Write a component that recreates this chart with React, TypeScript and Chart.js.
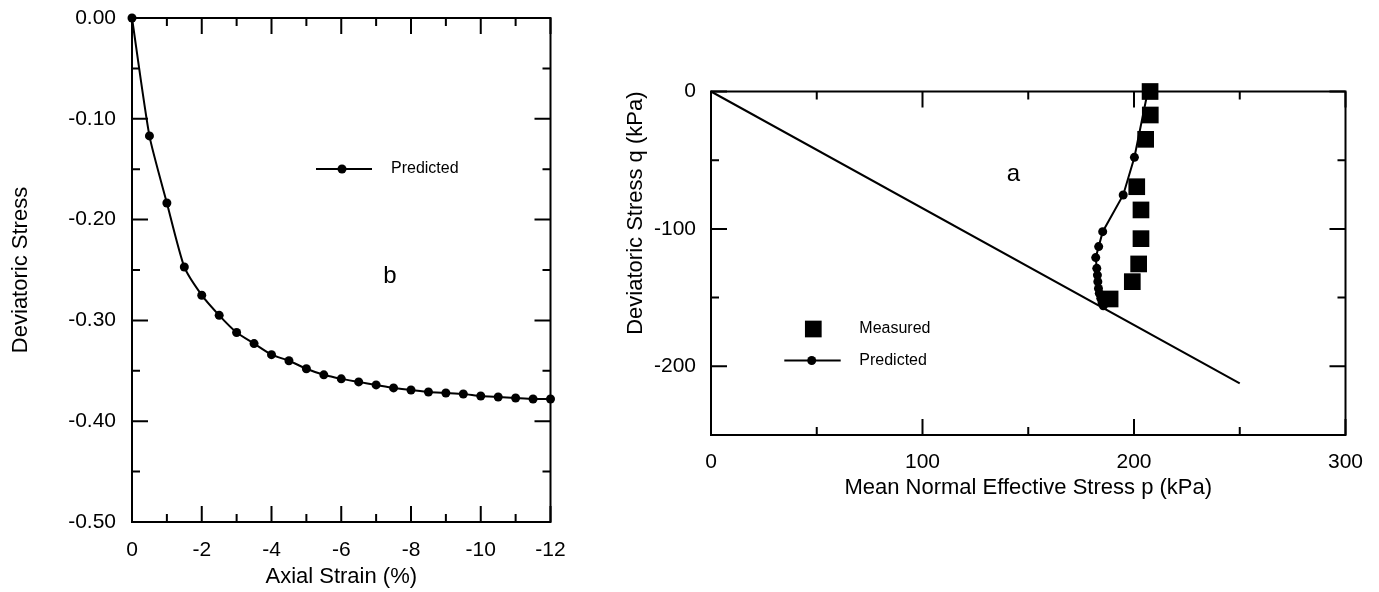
import React, { useEffect, useRef } from 'react';
import { Chart, registerables } from 'chart.js';

Chart.register(...registerables);

// ---------- Left chart (b): deviatoric stress vs axial strain ----------
const axialStrain = [0, -0.5, -1, -1.5, -2, -2.5, -3, -3.5, -4, -4.5, -5, -5.5, -6, -6.5, -7, -7.5, -8, -8.5, -9, -9.5, -10, -10.5, -11, -11.5, -12];
const devStressPredicted = [0, -0.117, -0.1835, -0.247, -0.275, -0.295, -0.312, -0.323, -0.334, -0.34, -0.348, -0.354, -0.358, -0.361, -0.364, -0.367, -0.369, -0.371, -0.372, -0.373, -0.375, -0.376, -0.377, -0.378, -0.378];
const leftXMajor = [0, -2, -4, -6, -8, -10, -12];
const leftXMinor = [-1, -3, -5, -7, -9, -11];
const leftYMajor = [0, -0.1, -0.2, -0.3, -0.4, -0.5];
const leftYMinor = [-0.05, -0.15, -0.25, -0.35, -0.45];

// ---------- Right chart (a): stress path q vs p ----------
const measuredP = [207.6, 207.7, 205.5, 201.3, 203.3, 203.3, 202.2, 199.2, 188.7];
const measuredQ = [0, -17.1, -34.8, -69.3, -86.2, -107.1, -125.5, -138.4, -151];
const predictedP = [206.5, 200.2, 194.9, 185.2, 183.3, 181.9, 182.4, 182.7, 182.9, 183.2, 183.6, 184.3, 184.9, 185.5];
const predictedQ = [0, -47.9, -75.3, -102, -112.9, -120.9, -128.7, -133.6, -138.4, -143.3, -146.9, -150.5, -153.7, -155.9];
const cslP = [0, 250];
const cslQ = [0, -212.4];
const rightXMajor = [0, 100, 200, 300];
const rightXMinor = [50, 150, 250];
const rightYMajor = [0, -100, -200];
const rightYMinor = [-50, -150];

const FONT = "'Liberation Sans', Arial, Helvetica, sans-serif";
const W = 1379;
const H = 592;

const zip = (xs: number[], ys: number[]) => xs.map((x, i) => ({ x, y: ys[i] }));

function framePlugin(id: string, xMajor: number[], xMinor: number[], yMajor: number[], yMinor: number[]) {
  return {
    id,
    beforeDatasetsDraw(chart: any) {
      const { ctx, chartArea: a, scales } = chart;
      const xs = scales.x;
      const ys = scales.y;
      ctx.save();
      ctx.strokeStyle = '#000';
      ctx.lineWidth = 2;
      ctx.lineCap = 'butt';
      ctx.strokeRect(a.left, a.top, a.right - a.left, a.bottom - a.top);
      const xt = (v: number, len: number) => {
        const px = xs.getPixelForValue(v);
        ctx.beginPath();
        ctx.moveTo(px, a.bottom);
        ctx.lineTo(px, a.bottom - len);
        ctx.moveTo(px, a.top);
        ctx.lineTo(px, a.top + len);
        ctx.stroke();
      };
      const yt = (v: number, len: number) => {
        const py = ys.getPixelForValue(v);
        ctx.beginPath();
        ctx.moveTo(a.left, py);
        ctx.lineTo(a.left + len, py);
        ctx.moveTo(a.right, py);
        ctx.lineTo(a.right - len, py);
        ctx.stroke();
      };
      xMajor.forEach((v) => xt(v, 16));
      xMinor.forEach((v) => xt(v, 8));
      yMajor.forEach((v) => yt(v, 16));
      yMinor.forEach((v) => yt(v, 8));
      ctx.restore();
    },
  };
}

const leftNotes = {
  id: 'leftNotes',
  afterDatasetsDraw(chart: any) {
    const { ctx, chartArea: a } = chart;
    ctx.save();
    ctx.fillStyle = '#000';
    ctx.strokeStyle = '#000';
    ctx.lineWidth = 2;
    const ly = a.top + 151;
    ctx.beginPath();
    ctx.moveTo(a.left + 184, ly);
    ctx.lineTo(a.left + 240, ly);
    ctx.stroke();
    ctx.beginPath();
    ctx.arc(a.left + 210, ly, 4.5, 0, Math.PI * 2);
    ctx.fill();
    ctx.font = `16px ${FONT}`;
    ctx.textAlign = 'left';
    ctx.textBaseline = 'middle';
    ctx.fillText('Predicted', a.left + 259, ly);
    ctx.font = `24px ${FONT}`;
    ctx.textAlign = 'center';
    ctx.fillText('b', a.left + 258, a.top + 258.5);
    ctx.restore();
  },
};

const rightNotes = {
  id: 'rightNotes',
  afterDatasetsDraw(chart: any) {
    const { ctx, chartArea: a } = chart;
    ctx.save();
    ctx.fillStyle = '#000';
    ctx.strokeStyle = '#000';
    ctx.lineWidth = 2;
    const my = a.top + 237.5;
    const s = 16.7;
    ctx.fillRect(a.left + 102.3 - s / 2, my - s / 2, s, s);
    const py = a.top + 269;
    ctx.beginPath();
    ctx.moveTo(a.left + 73.3, py);
    ctx.lineTo(a.left + 129.7, py);
    ctx.stroke();
    ctx.beginPath();
    ctx.arc(a.left + 100.7, py, 4.5, 0, Math.PI * 2);
    ctx.fill();
    ctx.font = `16px ${FONT}`;
    ctx.textAlign = 'left';
    ctx.textBaseline = 'middle';
    ctx.fillText('Measured', a.left + 148.3, my);
    ctx.fillText('Predicted', a.left + 148.3, py + 0.5);
    ctx.font = `24px ${FONT}`;
    ctx.textAlign = 'center';
    ctx.fillText('a', a.left + 302.3, a.top + 82.5);
    ctx.restore();
  },
};

const zeroPadH = (ax: any) => {
  ax.paddingLeft = 0;
  ax.paddingRight = 0;
};
const zeroPadV = (ax: any) => {
  ax.paddingTop = 0;
  ax.paddingBottom = 0;
};

export default function App() {
  const leftRef = useRef<HTMLCanvasElement>(null);
  const rightRef = useRef<HTMLCanvasElement>(null);

  useEffect(() => {
    document.body.style.margin = '0';
    Chart.defaults.font.family = FONT;
    Chart.defaults.color = '#000';

    const tickFont = { size: 21, family: FONT };
    const titleFont = { size: 22, family: FONT };

    const left = new Chart(leftRef.current as HTMLCanvasElement, {
      type: 'scatter',
      data: {
        datasets: [
          {
            label: 'Predicted',
            data: zip(axialStrain, devStressPredicted),
            showLine: true,
            borderColor: '#000',
            borderWidth: 2,
            backgroundColor: '#000',
            pointBackgroundColor: '#000',
            pointBorderWidth: 0,
            pointRadius: 4.5,
            pointStyle: 'circle',
            tension: 0.2,
            clip: false,
          } as any,
        ],
      },
      options: {
        responsive: false,
        animation: false,
        devicePixelRatio: 1,
        layout: { padding: { left: 0, top: 18, right: W - 550.5, bottom: 0 } },
        plugins: { legend: { display: false }, tooltip: { enabled: false } },
        scales: {
          x: {
            type: 'linear',
            reverse: true,
            min: -12,
            max: 0,
            afterBuildTicks: (ax: any) => {
              ax.ticks = leftXMajor.map((v) => ({ value: v }));
            },
            afterFit: (ax: any) => {
              ax.height = H - 522;
              zeroPadH(ax);
            },
            grid: { display: false, drawTicks: false },
            border: { display: false },
            ticks: { padding: 16, font: tickFont, color: '#000', maxRotation: 0, callback: (v: any) => String(v) },
            title: { display: true, text: 'Axial Strain (%)', font: titleFont, color: '#000', padding: { top: 0, bottom: 2 } },
          },
          y: {
            type: 'linear',
            min: -0.5,
            max: 0,
            afterBuildTicks: (ax: any) => {
              ax.ticks = leftYMajor.map((v) => ({ value: v }));
            },
            afterFit: (ax: any) => {
              ax.width = 132;
              zeroPadV(ax);
            },
            grid: { display: false, drawTicks: false },
            border: { display: false },
            ticks: { padding: 16, font: tickFont, color: '#000', callback: (v: any) => Number(v).toFixed(2) },
            title: { display: true, text: 'Deviatoric Stress', font: titleFont, color: '#000', padding: { top: 8, bottom: 0 } },
          },
        },
      } as any,
      plugins: [framePlugin('leftFrame', leftXMajor, leftXMinor, leftYMajor, leftYMinor), leftNotes],
    });

    const right = new Chart(rightRef.current as HTMLCanvasElement, {
      type: 'scatter',
      data: {
        datasets: [
          {
            label: 'Measured',
            data: zip(measuredP, measuredQ),
            showLine: false,
            backgroundColor: '#000',
            pointBackgroundColor: '#000',
            pointBorderWidth: 0,
            pointRadius: 11.8,
            pointStyle: 'rect',
            clip: false,
          } as any,
          {
            label: 'Predicted',
            data: zip(predictedP, predictedQ),
            showLine: true,
            borderColor: '#000',
            borderWidth: 2,
            backgroundColor: '#000',
            pointBackgroundColor: '#000',
            pointBorderWidth: 0,
            pointRadius: 4.5,
            pointStyle: 'circle',
            tension: 0,
            clip: false,
          } as any,
          {
            label: 'CSL',
            data: zip(cslP, cslQ),
            showLine: true,
            borderColor: '#000',
            borderWidth: 2,
            pointRadius: 0,
            tension: 0,
            clip: false,
          } as any,
        ],
      },
      options: {
        responsive: false,
        animation: false,
        devicePixelRatio: 1,
        layout: { padding: { left: 600, top: 91.5, right: W - 1345.5, bottom: 0 } },
        plugins: { legend: { display: false }, tooltip: { enabled: false } },
        scales: {
          x: {
            type: 'linear',
            min: 0,
            max: 300,
            afterBuildTicks: (ax: any) => {
              ax.ticks = rightXMajor.map((v) => ({ value: v }));
            },
            afterFit: (ax: any) => {
              ax.height = H - 435;
              zeroPadH(ax);
            },
            grid: { display: false, drawTicks: false },
            border: { display: false },
            ticks: { padding: 15, font: tickFont, color: '#000', maxRotation: 0, callback: (v: any) => String(v) },
            title: { display: true, text: 'Mean Normal Effective Stress p (kPa)', font: titleFont, color: '#000', padding: { top: 0, bottom: 90.8 } },
          },
          y: {
            type: 'linear',
            min: -250,
            max: 0,
            afterBuildTicks: (ax: any) => {
              ax.ticks = rightYMajor.map((v) => ({ value: v }));
            },
            afterFit: (ax: any) => {
              ax.width = 711 - 600;
              zeroPadV(ax);
            },
            grid: { display: false, drawTicks: false },
            border: { display: false },
            ticks: { padding: 15, font: tickFont, color: '#000', callback: (v: any) => String(v) },
            title: { display: true, text: 'Deviatoric Stress q (kPa)', align: 'end', font: titleFont, color: '#000', padding: { top: 23, bottom: 0 } },
          },
        },
      } as any,
      plugins: [framePlugin('rightFrame', rightXMajor, rightXMinor, rightYMajor, rightYMinor), rightNotes],
    });

    return () => {
      left.destroy();
      right.destroy();
    };
  }, []);

  return (
    <div style={{ position: 'relative', width: W, height: H, background: '#fff' }}>
      <canvas ref={leftRef} width={W} height={H} style={{ position: 'absolute', left: 0, top: 0 }} />
      <canvas ref={rightRef} width={W} height={H} style={{ position: 'absolute', left: 0, top: 0 }} />
    </div>
  );
}
